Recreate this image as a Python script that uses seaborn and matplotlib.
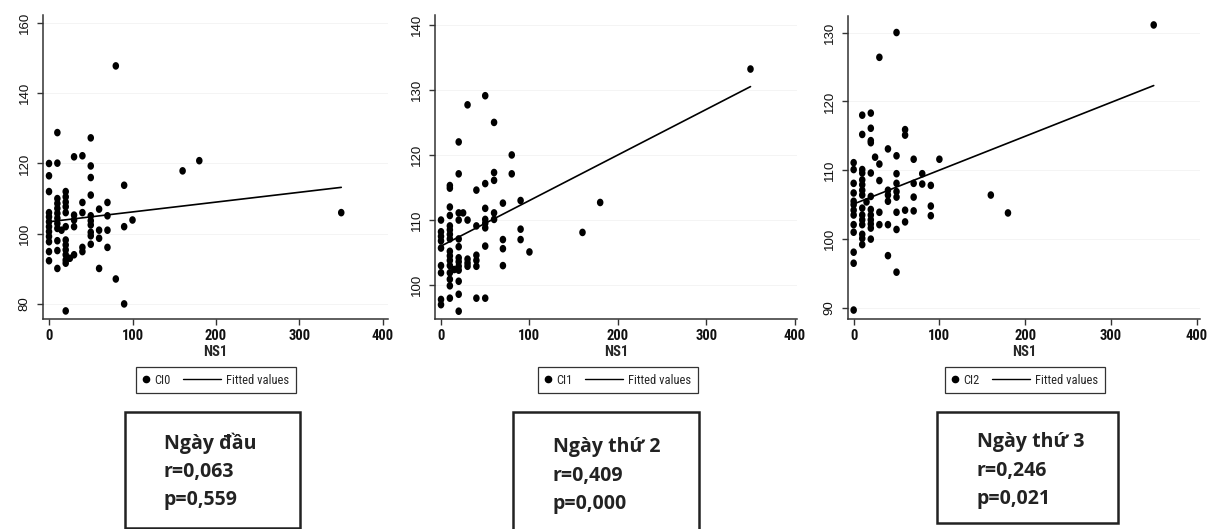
import numpy as np
import pandas as pd
import matplotlib
matplotlib.use("Agg")
import matplotlib.pyplot as plt
from matplotlib.lines import Line2D
from matplotlib.patches import Rectangle
from matplotlib.path import Path
from matplotlib.legend_handler import HandlerLine2D
import seaborn as sns

# --- 1. DỮ LIỆU ---

# Ngày đầu: NS1 vs CI0
ns1_d1 = [0, 0, 0, 0, 0, 0, 0, 0, 0, 0, 0, 0,
          10, 10, 10, 10, 10, 10, 10, 10, 10, 10, 10, 10,
          15,
          20, 20, 20, 20, 20, 20, 20, 20, 20, 20, 20, 20, 20,
          25,
          30, 30, 30, 30, 30,
          40, 40, 40, 40, 40,
          50, 50, 50, 50, 50, 50, 50, 50, 50, 50,
          60, 60, 60, 60,
          70, 70, 70, 70,
          80, 80,
          90, 90, 90,
          100, 160, 180, 350]
ci0 = [120, 116.5, 112, 106, 104.8, 103.4, 102, 100.6, 99.2, 97.7, 94.9, 92.3,
       128.8, 120.1, 110, 108.6, 107.2, 105.8, 104.4, 102.9, 101.5, 98, 95.2, 90.1,
       101,
       112, 110.5, 109, 107.7, 106, 102, 98.2, 96.8, 95.4, 94, 92.5, 91.6, 78,
       93,
       121.9, 105.3, 103.9, 102, 94,
       122.2, 108.9, 106, 96.1, 94.9,
       127.3, 119.3, 116, 111, 105.1, 103.7, 102.5, 100.4, 99.4, 97,
       107, 101, 98.7, 90.1,
       108.9, 105.1, 101, 96.1,
       147.8, 87.1,
       113.8, 102, 80,
       103.9, 117.9, 120.8, 106]

# Ngày thứ 2: NS1 vs CI1
ns1_d2 = [0, 0, 0, 0, 0, 0, 0, 0, 0,
          10, 10, 10, 10, 10, 10, 10, 10, 10, 10, 10, 10, 10, 10, 10, 10,
          15,
          20, 20, 20, 20, 20, 20, 20, 20, 20, 20, 20, 20, 20,
          25,
          30, 30, 30, 30, 30,
          40, 40, 40, 40, 40, 40,
          50, 50, 50, 50, 50, 50, 50, 50,
          60, 60, 60, 60, 60,
          70, 70, 70, 70,
          80, 80,
          90, 90, 90,
          100, 160, 180, 350]
ci1 = [110, 108.2, 107.5, 106.8, 105.7, 103, 101.9, 97.8, 97,
       115.3, 114.9, 112, 110.7, 109.1, 108.5, 107.8, 107.1, 105.2, 104.5, 103.8, 103, 101.9, 100.9, 99.9, 98,
       102.4,
       122, 117.1, 111.1, 110, 107.1, 105.9, 104.2, 103.6, 102.9, 102.3, 100.6, 98.6, 96,
       111.1,
       127.7, 110, 104, 103.4, 102.9,
       114.6, 109.1, 104.6, 103.8, 102.9, 98,
       129.1, 115.6, 111.8, 110.1, 109.5, 108.8, 106, 98,
       125, 117.3, 116.1, 111.1, 110.1,
       112.6, 107, 105.6, 103,
       120, 117.1,
       113, 108.6, 107,
       105.1, 108.1, 112.7, 133.2]

# Ngày thứ 3: NS1 vs CI2
ns1_d3 = [0, 0, 0, 0, 0, 0, 0, 0, 0, 0, 0, 0, 0,
          10, 10, 10, 10, 10, 10, 10, 10, 10, 10, 10, 10, 10, 10, 10,
          15,
          20, 20, 20, 20, 20, 20, 20, 20, 20, 20, 20, 20,
          25,
          30, 30, 30, 30, 30,
          40, 40, 40, 40, 40, 40,
          50, 50, 50, 50, 50, 50, 50, 50, 50,
          60, 60, 60, 60,
          70, 70, 70, 70,
          80, 80,
          90, 90, 90,
          100, 160, 180, 350]
ci2 = [111.1, 110.1, 108.1, 106.7, 105.5, 105, 104.2, 103.5, 102.1, 101, 98.1, 96.5, 89.7,
       118, 115.2, 110.1, 109.6, 108.6, 107.9, 107.1, 106.4, 104.5, 103.5, 102.8, 102.1, 100.7, 100.1, 99.2,
       105.4,
       118.3, 116.1, 114.3, 114, 109.6, 106.2, 104.3, 103.5, 102.8, 102.2, 101.6, 100,
       111.9,
       126.4, 110.9, 108.5, 103.9, 102.1,
       113.1, 107.1, 106.4, 105.5, 102.1, 97.6,
       130, 112.1, 109.5, 108.1, 106.9, 106.1, 103.9, 101.4, 95.2,
       115.9, 115.1, 104.2, 102.5,
       111.6, 108.1, 106.1, 104.1,
       109.5, 108,
       107.8, 104.8, 103.4,
       111.6, 106.4, 103.8, 131.1]

# Đường hồi quy (Fitted values) tại hai đầu mút
fit_x = [0, 350]
fit_d1 = [103.4, 113.2]
fit_d2 = [106.0, 130.5]
fit_d3 = [105.1, 122.3]

series_names = ["CI0", "CI1", "CI2"]
box_titles = ["Ngày đầu", "Ngày thứ 2", "Ngày thứ 3"]
r_values = ["0,063", "0,409", "0,246"]
p_values = ["0,559", "0,000", "0,021"]

xticks = [0, 100, 200, 300, 400]
yticks_d1 = [80, 100, 120, 140, 160]
yticks_d2 = [100, 110, 120, 130, 140]
yticks_d3 = [90, 100, 110, 120, 130]

# --- 2. CẤU HÌNH ---
W, H = 1210, 529
sns.set_theme(style="ticks")
# font hẹp kiểu Arial Narrow của Stata
plt.rcParams["font.family"] = ["Liberation Sans Narrow", "Roboto Condensed",
                               "DejaVu Sans"]
plt.rcParams["font.stretch"] = "condensed"

# chấm hơi cao hơn rộng (ảnh gốc bị giãn dọc)
t = np.linspace(0, 2 * np.pi, 41)
oval = Path(np.column_stack([0.86 * np.cos(t), np.sin(t)]), closed=True)


class LongLineHandler(HandlerLine2D):
    # kéo dài nét "Fitted values" sang trái như legend của Stata
    def create_artists(self, legend, orig_handle, xdescent, ydescent,
                       width, height, fontsize, trans):
        y = height / 2 - ydescent
        ln = Line2D([-2.5 * fontsize, width], [y, y], color="black", lw=1)
        ln.set_transform(trans)
        return [ln]


fig = plt.figure(figsize=(W / 100, H / 100), dpi=100)
fig.patch.set_facecolor("white")

panels = [
    # khung trục theo pixel (trái, phải, trên, dưới)
    dict(box=(43, 388, 15, 319), xlim=(-7.2, 406), ylim=(75.7, 162.3),
         x=ns1_d1, y=ci0, fit=fit_d1, yt=yticks_d1, leg_cx=216),
    dict(box=(435, 797, 15, 319), xlim=(-6.8, 402.6), ylim=(94.8, 141.5),
         x=ns1_d2, y=ci1, fit=fit_d2, yt=yticks_d2, leg_cx=618),
    dict(box=(848, 1200, 16, 319), xlim=(-6.6, 404), ylim=(88.4, 132.4),
         x=ns1_d3, y=ci2, fit=fit_d3, yt=yticks_d3, leg_cx=1025),
]

for i, p in enumerate(panels):
    l, r, tp, b = p["box"]
    ax = fig.add_axes([l / W, 1 - b / H, (r - l) / W, (b - tp) / H])
    df = pd.DataFrame({"NS1": p["x"], "CI": p["y"]})
    sns.scatterplot(data=df, x="NS1", y="CI", ax=ax, color="black", s=30,
                    marker=oval, edgecolor="none", legend=False, zorder=3)
    sns.lineplot(x=fit_x, y=p["fit"], ax=ax, color="black", lw=1.2, zorder=4)

    ax.set_xlim(*p["xlim"])
    ax.set_ylim(*p["ylim"])
    ax.set_xticks(xticks)
    ax.set_yticks(p["yt"])
    ax.set_xticklabels([str(v) for v in xticks], fontsize=10.5, fontweight="bold")
    ax.set_yticklabels([str(v) for v in p["yt"]], fontsize=9.5, rotation=90,
                       va="center", family=["Liberation Sans", "DejaVu Sans"],
                       stretch="normal")
    ax.set_xlabel("NS1", fontsize=10.5, fontweight="bold", labelpad=1)
    ax.set_ylabel("")
    ax.grid(axis="y", color="#f3f3f3", lw=0.6)
    ax.set_axisbelow(True)
    sns.despine(ax=ax)
    for s in ["left", "bottom"]:
        ax.spines[s].set_color("#333333")
        ax.spines[s].set_linewidth(1.1)
    ax.tick_params(axis="both", length=4, width=1, color="#333333",
                   labelcolor="#111111")
    ax.tick_params(axis="x", pad=3.5)
    ax.tick_params(axis="y", pad=5)

    dot = Line2D([], [], marker="o", ls="", color="black", markersize=4.5)
    fit_line = Line2D([], [], color="black", lw=1)
    leg = ax.legend([dot, fit_line], [series_names[i], "Fitted values"], ncol=2,
                    loc="center", bbox_to_anchor=(p["leg_cx"] / W, 1 - 380 / H),
                    bbox_transform=fig.transFigure, fontsize=9, frameon=True,
                    fancybox=False, edgecolor="black", handlelength=0.5,
                    handletextpad=0.45, columnspacing=3.5, borderpad=0.5,
                    borderaxespad=0, handler_map={fit_line: LongLineHandler()})
    leg.get_frame().set_linewidth(0.9)

# --- 3. HỘP KẾT QUẢ r, p ---
boxes = [
    dict(rect=(125, 300, 412, 528), tx=164, ty=[443, 472, 500]),
    dict(rect=(513, 699, 412, 540), tx=553, ty=[447, 476, 504]),
    dict(rect=(937, 1118, 412, 523), tx=977, ty=[442, 471, 499]),
]
for i, bx in enumerate(boxes):
    x0, x1, y0, y1 = bx["rect"]
    fig.add_artist(Rectangle((x0 / W, 1 - y1 / H), (x1 - x0) / W, (y1 - y0) / H,
                             transform=fig.transFigure, fill=False,
                             lw=1.8, ec="#222222"))
    lines = [box_titles[i], "r=" + r_values[i], "p=" + p_values[i]]
    for txt, yy in zip(lines, bx["ty"]):
        fig.text(bx["tx"] / W, 1 - yy / H, txt, fontsize=14, fontweight="bold",
                 family=["Open Sans", "DejaVu Sans"], stretch="normal",
                 color="#222222", ha="left", va="center")

fig.savefig("out.png", dpi=100, facecolor="white")
